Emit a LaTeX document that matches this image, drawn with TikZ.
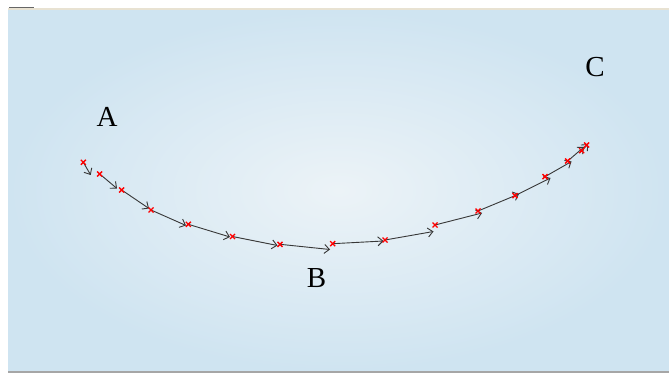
\documentclass[tikz,border=0pt]{standalone}
\usepackage{fontspec}
\setmainfont{Liberation Serif}
\usetikzlibrary{arrows.meta,calc}
\definecolor{panelin}{RGB}{236,243,247}
\definecolor{panelout}{RGB}{207,228,241}
\definecolor{rimtan}{RGB}{232,226,210}
\definecolor{vecgray}{RGB}{55,55,55}
\tikzset{
  vec/.style={draw=vecgray,line width=0.9pt,-{Straight Barb[length=5pt,width=9pt]}},
  lbl/.style={inner sep=0pt,font=\fontsize{29}{29}\selectfont},
}
\newcommand{\crossmark}[1]{\draw[red,line width=1.4pt] ($(#1)+(-2.5,-2.5)$) -- ($(#1)+(2.5,2.5)$) ($(#1)+(-2.5,2.5)$) -- ($(#1)+(2.5,-2.5)$);}

\begin{document}
\begin{tikzpicture}[x=1pt,y=-1pt]
  \useasboundingbox (0,0) rectangle (669,374);
  \fill[white] (0,0) rectangle (669,374);
  % 背景面板
  \shade[inner color=panelin,outer color=panelout] (8,10) rectangle (669,371);
  \draw[rimtan,line width=1.5pt] (8,9) -- (669,9);
  \draw[gray!80!black,line width=1pt] (9,7.5) -- (34,7.5);
  \draw[gray!70,line width=2pt] (8,372) -- (669,372);
  % 轨迹上的点
  \coordinate (P1) at (83.3,162.3);
  \coordinate (P2) at (99.7,174);
  \coordinate (P3) at (121.7,190);
  \coordinate (P4) at (151,210);
  \coordinate (P5) at (188.3,224.3);
  \coordinate (P6) at (232.5,236.5);
  \coordinate (P7) at (280,244.3);
  \coordinate (P8) at (332.7,243.7);
  \coordinate (P9) at (385,240);
  \coordinate (P10) at (435,225);
  \coordinate (P11) at (478,211);
  \coordinate (P12) at (515,195.7);
  \coordinate (P13) at (545,176.7);
  \coordinate (P14) at (567.7,161);
  \coordinate (P15) at (581.7,150.7);
  \coordinate (P16) at (586.7,145);
  % 速度箭头的终点
  \coordinate (E1) at (90.7,175);
  \coordinate (E2) at (117,188.5);
  \coordinate (E3) at (149,208.5);
  \coordinate (E4) at (186,225.5);
  \coordinate (E5) at (230,237);
  \coordinate (E6) at (277.5,245.5);
  \coordinate (E7) at (330,249.5);
  \coordinate (E8) at (383.5,241);
  \coordinate (E9) at (433.5,231.5);
  \coordinate (E10) at (482,213);
  \coordinate (E11) at (519,194);
  \coordinate (E12) at (550.5,178);
  \coordinate (E13) at (571.5,161.5);
  \coordinate (E14) at (584,147);
  \coordinate (E15) at (588,144);
  % 箭头
  \draw[vec] (P1) -- (E1);
  \draw[vec] (P2) -- (E2);
  \draw[vec] (P3) -- (E3);
  \draw[vec] (P4) -- (E4);
  \draw[vec] (P5) -- (E5);
  \draw[vec] (P6) -- (E6);
  \draw[vec] (P7) -- (E7);
  \draw[vec] (P8) -- (E8);
  \draw[vec] (P9) -- (E9);
  \draw[vec] (P10) -- (E10);
  \draw[vec] (P11) -- (E11);
  \draw[vec] (P12) -- (E12);
  \draw[vec] (P13) -- (E13);
  \draw[vec] (P14) -- (E14);
  \draw[vec] (P15) -- (E15);
  % 红色标记
  \crossmark{P1} \crossmark{P2} \crossmark{P3} \crossmark{P4}
  \crossmark{P5} \crossmark{P6} \crossmark{P7} \crossmark{P8}
  \crossmark{P9} \crossmark{P10} \crossmark{P11} \crossmark{P12}
  \crossmark{P13} \crossmark{P14} \crossmark{P15} \crossmark{P16}
  % 标注
  \node[lbl] (labA) at (107,116.5) {A};
  \node[lbl] (labB) at (316.5,278.5) {B};
  \node[lbl] (labC) at (595,67.5) {C};
\end{tikzpicture}
\end{document}
